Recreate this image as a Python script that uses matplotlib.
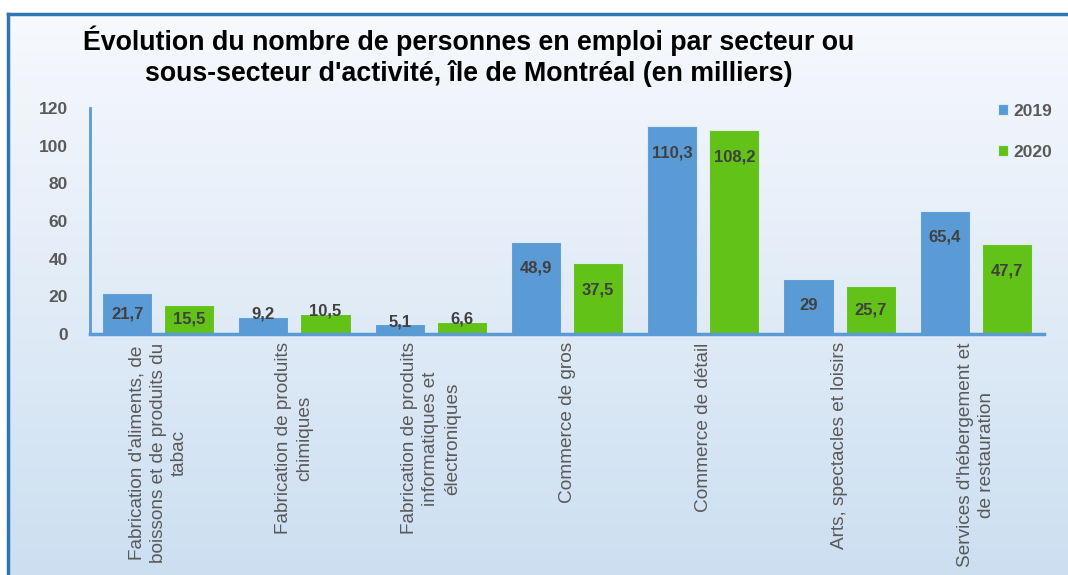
import numpy as np
import matplotlib
matplotlib.use("Agg")
import matplotlib.pyplot as plt
from matplotlib.lines import Line2D

# Data (thousands of people)
categories = [
    "Fabrication d'aliments, de\nboissons et de produits du\ntabac",
    "Fabrication de produits\nchimiques",
    "Fabrication de produits\ninformatiques et\nélectroniques",
    "Commerce de gros",
    "Commerce de détail",
    "Arts, spectacles et loisirs",
    "Services d'hébergement et\nde restauration",
]
values_2019 = [21.7, 9.2, 5.1, 48.9, 110.3, 29.0, 65.4]
values_2020 = [15.5, 10.5, 6.6, 37.5, 108.2, 25.7, 47.7]
labels_2019 = ["21,7", "9,2", "5,1", "48,9", "110,3", "29", "65,4"]
labels_2020 = ["15,5", "10,5", "6,6", "37,5", "108,2", "25,7", "47,7"]
yticks = [0, 20, 40, 60, 80, 100, 120]

blue = "#5B9BD5"
green = "#62C217"
grey = "#595959"

W, H = 1068, 575
fig = plt.figure(figsize=(W / 100, H / 100), dpi=100)
fig.patch.set_facecolor("white")

# gradient background inside the blue frame
bg = fig.add_axes([8 / W, 0, 1 - 8 / W, 1 - 14 / H], zorder=-10)
grad = np.linspace(0, 1, 256).reshape(-1, 1)
top = np.array([0.968, 0.976, 0.992])
bot = np.array([0.800, 0.875, 0.945])
img = top + (bot - top) * grad[..., None]
bg.imshow(img, aspect="auto", extent=[0, 1, 0, 1], origin="upper")
bg.set_axis_off()

# frame lines (top and left)
fig.add_artist(Line2D([8 / W, 1], [1 - 14 / H, 1 - 14 / H], color="#2E75B6", lw=2.5, transform=fig.transFigure))
fig.add_artist(Line2D([8 / W, 8 / W], [0, 1 - 14 / H], color="#2E75B6", lw=2.5, transform=fig.transFigure))

ax = fig.add_axes([90 / W, (H - 334) / H, (1044 - 90) / W, (334 - 108) / H])
ax.patch.set_alpha(0)

x = np.arange(len(categories))
bw = 0.368
off = 0.228
ax.bar(x - off, values_2019, bw, color=blue, edgecolor="#DDEBF7", linewidth=0.8, label="2019")
ax.bar(x + off, values_2020, bw, color=green, edgecolor="#DDEBF7", linewidth=0.8, label="2020")


def label_y(v):
    if v < 12:
        return v + 1.5
    return max(v / 2, v - 14)


for xs, vals, labs in [(x - off, values_2019, labels_2019), (x + off, values_2020, labels_2020)]:
    for xi, v, lab in zip(xs, vals, labs):
        ax.text(xi, label_y(v), lab, ha="center", va="center", fontsize=12,
                fontweight="bold", color="#404040", family="Liberation Sans")

ax.set_xlim(-0.5, len(categories) - 0.5)
ax.set_ylim(0, 120)
ax.set_yticks(yticks)
ax.set_yticklabels([str(t) for t in yticks], fontsize=12.5, fontweight="bold",
                   color=grey, family="Liberation Sans")
ax.tick_params(axis="y", length=0, pad=16)
ax.tick_params(axis="x", length=0, pad=6)
ax.set_xticks(x)
ax.set_xticklabels(categories, rotation=90, ha="center", va="top",
                   multialignment="center", fontsize=13.7, color=grey,
                   family="Liberation Sans", linespacing=1.35)

for s in ["top", "right"]:
    ax.spines[s].set_visible(False)
ax.spines["left"].set_color(blue)
ax.spines["left"].set_linewidth(2)
ax.spines["bottom"].set_color(blue)
ax.spines["bottom"].set_linewidth(2.5)

leg = ax.legend(loc="upper left", bbox_to_anchor=(982 / W, 1 - 88 / H),
                bbox_transform=fig.transFigure, frameon=False,
                handlelength=0.6, handleheight=0.6, handletextpad=0.3,
                labelspacing=1.5, prop={"family": "Liberation Sans", "weight": "bold", "size": 12.5})
for t in leg.get_texts():
    t.set_color(grey)

fig.text(469 / W, 1 - 56 / H,
         "Évolution du nombre de personnes en emploi par secteur ou\nsous-secteur d'activité, île de Montréal (en milliers)",
         ha="center", va="center", fontsize=19.3, fontweight="bold", color="black",
         family="Liberation Sans", linespacing=1.2)

fig.savefig("out.png", dpi=100)
